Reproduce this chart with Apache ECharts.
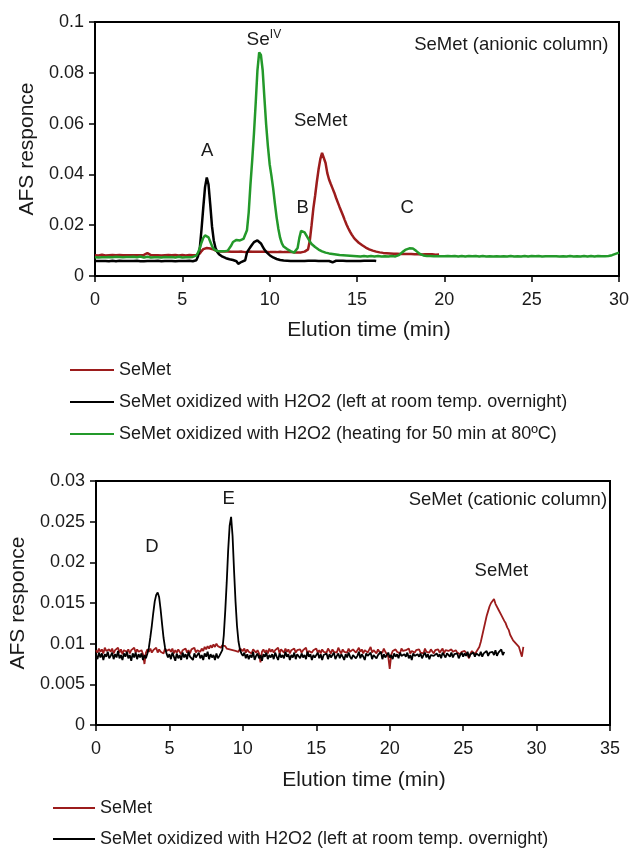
<!DOCTYPE html>
<html>
<head>
<meta charset="utf-8">
<script src="https://cdn.jsdelivr.net/npm/echarts@6/dist/echarts.min.js"></script>
<style>
  html, body { margin: 0; padding: 0; background: #fff; }
  #chart { width: 632px; height: 852px; }
</style>
</head>
<body>
<div id="chart"></div>
<script>
const step = 0.1;

const nameSeMet = "SeMet";
const nameRoom = "SeMet oxidized with H2O2 (left at room temp. overnight)";
const nameHeat = "SeMet oxidized with H2O2 (heating for 50 min at 80ºC)";

// ---- anionic column (top) ----
const anionSeMet = [
  .0082,.0083,.0081,.0082,.0084,.0082,.0081,.0083,.0082,.0082,
  .0083,.0081,.0082,.0082,.0083,.0081,.0082,.0084,.0082,.0081,
  .0082,.0083,.0082,.0081,.0082,.0083,.0082,.0081,.0083,.0086,
  .0090,.0083,.0082,.0081,.0082,.0083,.0082,.0082,.0081,.0083,
  .0082,.0081,.0083,.0082,.0082,.0081,.0083,.0082,.0081,.0082,
  .0083,.0082,.0081,.0082,.0083,.0082,.0082,.0081,.0083,.0082,
  .0088,.0098,.0106,.0109,.0110,.0109,.0108,.0106,.0104,.0101,
  .0097,.0096,.0096,.0095,.0096,.0095,.0096,.0095,.0095,.0096,
  .0095,.0096,.0095,.0095,.0096,.0095,.0094,.0095,.0096,.0095,
  .0095,.0096,.0095,.0094,.0095,.0096,.0095,.0094,.0095,.0095,
  .0094,.0095,.0094,.0095,.0094,.0094,.0095,.0094,.0094,.0095,
  .0094,.0093,.0094,.0094,.0093,.0094,.0093,.0094,.0093,.0094,
  .0096,.0099,.0105,.0140,.0200,.0265,.0315,.0370,.0420,.0460,
  .0485,.0478,.0445,.0405,.0380,.0362,.0345,.0328,.0308,.0290,
  .0272,.0255,.0238,.0220,.0203,.0188,.0175,.0163,.0153,.0144,
  .0137,.0131,.0126,.0121,.0116,.0112,.0108,.0105,.0102,.0100,
  .0098,.0096,.0094,.0093,.0092,.0091,.0090,.0090,.0089,.0089,
  .0088,.0088,.0087,.0088,.0087,.0087,.0086,.0087,.0086,.0087,
  .0086,.0087,.0086,.0086,.0087,.0086,.0086,.0085,.0086,.0086,
  .0085,.0086,.0085,.0086,.0085,.0084,.0086,.0085
];
const anionOxRoom = [
  .0059,.0060,.0059,.0058,.0059,.0060,.0059,.0059,.0058,.0059,
  .0060,.0059,.0058,.0059,.0060,.0059,.0059,.0058,.0059,.0060,
  .0059,.0058,.0059,.0059,.0060,.0059,.0058,.0051,.0058,.0059,
  .0059,.0060,.0059,.0058,.0059,.0059,.0060,.0059,.0058,.0059,
  .0059,.0058,.0059,.0060,.0059,.0052,.0058,.0059,.0059,.0060,
  .0059,.0058,.0059,.0059,.0060,.0059,.0058,.0059,.0062,.0078,
  .0110,.0185,.0270,.0350,.0388,.0360,.0280,.0195,.0140,.0110,
  .0095,.0086,.0080,.0076,.0073,.0070,.0068,.0066,.0064,.0063,
  .0062,.0058,.0048,.0047,.0056,.0060,.0062,.0092,.0104,.0114,
  .0124,.0133,.0138,.0140,.0137,.0128,.0116,.0104,.0095,.0088,
  .0082,.0077,.0073,.0070,.0067,.0065,.0063,.0062,.0061,.0061,
  .0060,.0060,.0059,.0060,.0059,.0053,.0059,.0060,.0059,.0060,
  .0059,.0060,.0060,.0059,.0060,.0059,.0060,.0060,.0059,.0060,
  .0059,.0060,.0059,.0060,.0059,.0060,.0054,.0059,.0060,.0059,
  .0060,.0059,.0060,.0059,.0059,.0060,.0059,.0060,.0059,.0060,
  .0059,.0060,.0059,.0059,.0060,.0059,.0060,.0059,.0060,.0059,
  .0060,.0059
];
const anionOxHeat = [
  .0074,.0076,.0073,.0075,.0074,.0077,.0074,.0073,.0075,.0076,
  .0074,.0073,.0076,.0074,.0075,.0073,.0074,.0076,.0075,.0073,
  .0075,.0074,.0076,.0073,.0074,.0075,.0077,.0074,.0073,.0075,
  .0076,.0074,.0073,.0075,.0074,.0076,.0074,.0075,.0073,.0074,
  .0075,.0073,.0074,.0076,.0075,.0074,.0073,.0075,.0076,.0074,
  .0073,.0075,.0074,.0076,.0074,.0073,.0075,.0076,.0080,.0092,
  .0110,.0132,.0150,.0160,.0162,.0152,.0135,.0118,.0106,.0100,
  .0098,.0097,.0097,.0096,.0097,.0098,.0100,.0106,.0120,.0134,
  .0140,.0142,.0141,.0140,.0142,.0146,.0152,.0180,.0250,.0360,
  .0455,.0560,.0680,.0810,.0880,.0870,.0810,.0700,.0595,.0510,
  .0440,.0395,.0345,.0285,.0230,.0185,.0150,.0128,.0116,.0110,
  .0106,.0102,.0098,.0094,.0092,.0091,.0110,.0150,.0178,.0180,
  .0172,.0160,.0148,.0136,.0126,.0119,.0114,.0109,.0104,.0100,
  .0097,.0094,.0092,.0090,.0089,.0088,.0087,.0086,.0085,.0084,
  .0083,.0083,.0082,.0081,.0081,.0080,.0080,.0079,.0079,.0079,
  .0078,.0079,.0077,.0078,.0079,.0078,.0077,.0078,.0079,.0078,
  .0077,.0078,.0079,.0078,.0077,.0078,.0078,.0079,.0077,.0078,
  .0079,.0078,.0077,.0078,.0082,.0088,.0094,.0099,.0104,.0107,
  .0109,.0110,.0108,.0104,.0098,.0092,.0087,.0083,.0081,.0080,
  .0079,.0078,.0079,.0077,.0078,.0079,.0078,.0077,.0078,.0079,
  .0078,.0077,.0079,.0078,.0078,.0077,.0079,.0078,.0077,.0078,
  .0079,.0078,.0077,.0078,.0079,.0078,.0078,.0077,.0079,.0078,
  .0077,.0078,.0079,.0078,.0077,.0079,.0078,.0078,.0077,.0078,
  .0078,.0079,.0077,.0078,.0078,.0079,.0077,.0078,.0079,.0078,
  .0077,.0078,.0078,.0079,.0077,.0078,.0079,.0078,.0077,.0078,
  .0079,.0077,.0078,.0078,.0079,.0078,.0077,.0079,.0078,.0077,
  .0078,.0079,.0078,.0077,.0078,.0079,.0077,.0078,.0078,.0079,
  .0077,.0078,.0079,.0078,.0077,.0078,.0078,.0079,.0077,.0078,
  .0079,.0078,.0077,.0078,.0079,.0078,.0077,.0078,.0079,.0078,
  .0078,.0079,.0078,.0077,.0079,.0080,.0082,.0084,.0087,.0090,
  .0092
];

// ---- cationic column (bottom) ----
const cationSeMet = [
  .0092,.0089,.0094,.0090,.0093,.0088,.0095,.0091,.0089,.0093,
  .0090,.0094,.0088,.0092,.0091,.0095,.0089,.0093,.0087,.0092,
  .0094,.0090,.0093,.0088,.0092,.0091,.0095,.0089,.0093,.0090,
  .0088,.0092,.0087,.0075,.0089,.0093,.0090,.0094,.0089,.0092,
  .0091,.0095,.0089,.0093,.0090,.0092,.0088,.0094,.0091,.0089,
  .0093,.0090,.0094,.0088,.0092,.0089,.0093,.0091,.0087,.0092,
  .0090,.0094,.0089,.0092,.0088,.0093,.0091,.0095,.0089,.0092,
  .0093,.0090,.0094,.0091,.0096,.0093,.0097,.0094,.0098,.0095,
  .0099,.0096,.0100,.0097,.0099,.0095,.0098,.0096,.0097,.0094,
  .0096,.0093,.0095,.0092,.0094,.0091,.0093,.0090,.0094,.0092,
  .0091,.0094,.0089,.0093,.0090,.0092,.0088,.0093,.0091,.0089,
  .0092,.0088,.0077,.0090,.0093,.0089,.0092,.0088,.0094,.0090,
  .0093,.0089,.0092,.0090,.0095,.0088,.0093,.0091,.0089,.0094,
  .0090,.0093,.0088,.0092,.0091,.0094,.0089,.0092,.0090,.0093,
  .0089,.0092,.0090,.0095,.0088,.0091,.0093,.0089,.0092,.0090,
  .0094,.0089,.0092,.0088,.0093,.0090,.0092,.0089,.0094,.0091,
  .0088,.0093,.0090,.0092,.0089,.0095,.0091,.0088,.0093,.0090,
  .0092,.0089,.0094,.0090,.0088,.0093,.0091,.0089,.0092,.0095,
  .0090,.0093,.0088,.0092,.0094,.0089,.0091,.0096,.0089,.0092,
  .0091,.0088,.0093,.0090,.0092,.0089,.0094,.0090,.0087,.0084,
  .0069,.0086,.0091,.0089,.0093,.0090,.0092,.0088,.0094,.0091,
  .0089,.0092,.0090,.0094,.0088,.0091,.0093,.0089,.0092,.0090,
  .0093,.0089,.0091,.0088,.0094,.0090,.0092,.0089,.0093,.0091,
  .0088,.0092,.0090,.0093,.0089,.0091,.0094,.0088,.0092,.0090,
  .0091,.0089,.0093,.0090,.0088,.0092,.0089,.0091,.0087,.0090,
  .0088,.0091,.0089,.0086,.0082,.0088,.0091,.0089,.0087,.0090,
  .0092,.0096,.0102,.0110,.0118,.0126,.0134,.0140,.0146,.0150,
  .0152,.0155,.0149,.0148,.0142,.0141,.0135,.0134,.0128,.0125,
  .0120,.0117,.0111,.0109,.0104,.0103,.0100,.0099,.0096,.0097,
  .0084,.0096
];
const cationOxRoom = [
  .0086,.0081,.0089,.0083,.0088,.0080,.0087,.0084,.0090,.0082,
  .0085,.0089,.0081,.0087,.0083,.0091,.0082,.0086,.0080,.0088,
  .0084,.0090,.0082,.0086,.0079,.0088,.0083,.0089,.0081,.0087,
  .0083,.0088,.0080,.0086,.0082,.0088,.0095,.0108,.0122,.0138,
  .0152,.0160,.0163,.0157,.0142,.0124,.0107,.0095,.0088,.0083,
  .0087,.0081,.0089,.0084,.0079,.0088,.0082,.0086,.0080,.0089,
  .0083,.0087,.0081,.0090,.0084,.0086,.0080,.0088,.0083,.0085,
  .0089,.0082,.0086,.0080,.0088,.0084,.0090,.0081,.0087,.0083,
  .0086,.0080,.0088,.0082,.0085,.0086,.0092,.0110,.0140,.0175,
  .0215,.0245,.0256,.0232,.0190,.0152,.0122,.0103,.0093,.0088,
  .0085,.0089,.0082,.0087,.0081,.0086,.0083,.0090,.0080,.0085,
  .0088,.0082,.0086,.0079,.0087,.0084,.0089,.0081,.0086,.0083,
  .0087,.0081,.0089,.0084,.0080,.0088,.0083,.0086,.0082,.0090,
  .0084,.0087,.0080,.0086,.0083,.0089,.0081,.0087,.0085,.0082,
  .0088,.0083,.0086,.0081,.0090,.0084,.0087,.0080,.0086,.0083,
  .0085,.0089,.0082,.0087,.0080,.0086,.0084,.0088,.0081,.0087,
  .0083,.0086,.0089,.0081,.0085,.0088,.0082,.0087,.0084,.0080,
  .0087,.0083,.0089,.0084,.0081,.0086,.0088,.0082,.0085,.0090,
  .0082,.0087,.0084,.0080,.0088,.0085,.0083,.0089,.0081,.0086,
  .0088,.0082,.0086,.0084,.0090,.0081,.0087,.0083,.0085,.0089,
  .0083,.0086,.0081,.0088,.0084,.0087,.0082,.0089,.0085,.0083,
  .0087,.0084,.0089,.0082,.0086,.0080,.0088,.0085,.0083,.0087,
  .0084,.0088,.0082,.0086,.0089,.0083,.0087,.0081,.0086,.0088,
  .0085,.0083,.0088,.0084,.0087,.0082,.0089,.0086,.0083,.0088,
  .0086,.0084,.0089,.0083,.0087,.0085,.0088,.0082,.0086,.0089,
  .0084,.0088,.0085,.0090,.0083,.0087,.0086,.0089,.0084,.0088,
  .0087,.0085,.0090,.0084,.0088,.0086,.0091,.0085,.0089,.0087,
  .0090,.0086,.0092,.0085,.0089,.0087,.0093,.0086,.0090
];

// peak labels: [time, response, text]
const anionNotes = [
  [9.67, 0.0929, "{a|Se}{b|IV}"],
  [12.92, 0.0611, "SeMet"],
  [6.42, 0.0493, "A"],
  [11.89, 0.0269, "B"],
  [17.88, 0.0269, "C"]
];
const anionTitle = [29.4, 0.0910, "SeMet (anionic column)"];
const cationNotes = [
  [3.81, 0.0219, "D"],
  [9.04, 0.0278, "E"],
  [27.6, 0.0189, "SeMet"]
];
const cationTitle = [34.8, 0.0277, "SeMet (cationic column)"];

const anionX = { max: 30, interval: 5 };
const anionY = { max: 0.1, interval: 0.02 };
const cationX = { max: 35, interval: 5 };
const cationY = { max: 0.03, interval: 0.005 };

const font = "Liberation Sans, Arial, sans-serif";
const ink = "#1a1a1a";
const red = "#9c1c1c";
const black = "#000000";
const green = "#23992a";

function pairs(values) {
  return values.map((v, i) => [+(i * step).toFixed(1), v]);
}

function xAxisOf(gi, cfg, padLeft, gap) {
  return {
    type: "value", gridIndex: gi, min: 0, max: cfg.max, interval: cfg.interval,
    name: "Elution time (min)", nameLocation: "middle", nameGap: gap,
    nameTextStyle: { fontSize: 21, color: ink, fontFamily: font, padding: [0, 0, 0, padLeft] },
    axisLine: { show: true, onZero: false, lineStyle: { color: "#000", width: 2 } },
    axisTick: { show: true, length: 6, lineStyle: { color: "#000", width: 1.5 } },
    axisLabel: { fontSize: 18, color: ink, fontFamily: font, margin: 15 },
    splitLine: { show: false }
  };
}

function yAxisOf(gi, cfg, gap) {
  return {
    type: "value", gridIndex: gi, min: 0, max: cfg.max, interval: cfg.interval,
    name: "AFS responce", nameLocation: "middle", nameGap: gap,
    nameTextStyle: { fontSize: 21, color: ink, fontFamily: font },
    axisLine: { show: true, onZero: false, lineStyle: { color: "#000", width: 2 } },
    axisTick: { show: true, length: 6, lineStyle: { color: "#000", width: 1.5 } },
    axisLabel: {
      fontSize: 18, color: ink, fontFamily: font, margin: 11,
      formatter: (v) => String(+v.toFixed(4))
    },
    splitLine: { show: false }
  };
}

function line(name, values, color, gi, width) {
  return {
    name: name, type: "line", xAxisIndex: gi, yAxisIndex: gi,
    data: pairs(values), showSymbol: false, symbol: "none",
    color: color, itemStyle: { color: color },
    lineStyle: { color: color, width: width }
  };
}

const legendText = { fontSize: 18, color: ink, fontFamily: font, lineHeight: 22 };

const option = {
  animation: false,
  backgroundColor: "#fff",
  grid: [
    { left: 95, top: 22, width: 524, height: 254, show: true, borderColor: "#000", borderWidth: 2, containLabel: false },
    { left: 96, top: 481, width: 514, height: 244, show: true, borderColor: "#000", borderWidth: 2, containLabel: false }
  ],
  xAxis: [xAxisOf(0, anionX, 24, 44), xAxisOf(1, cationX, 22, 45)],
  yAxis: [yAxisOf(0, anionY, 57), yAxisOf(1, cationY, 64)],
  legend: [
    {
      orient: "vertical", left: 70, top: 359, padding: 0, itemWidth: 44, itemHeight: 2, icon: "rect",
      itemGap: 10, selectedMode: false, textStyle: legendText,
      data: [nameSeMet, nameRoom, nameHeat]
    },
    {
      orient: "vertical", left: 53, top: 797, padding: 0, itemWidth: 42, itemHeight: 2, icon: "rect",
      itemGap: 9, selectedMode: false, textStyle: legendText,
      data: [nameSeMet, nameRoom]
    }
  ],
  series: [
    line(nameSeMet, anionSeMet, red, 0, 2.5),
    line(nameRoom, anionOxRoom, black, 0, 2.5),
    line(nameHeat, anionOxHeat, green, 0, 2.5),
    line(nameSeMet, cationSeMet, red, 1, 1.8),
    line(nameRoom, cationOxRoom, black, 1, 1.8)
  ]
};

const chart = echarts.init(document.getElementById("chart"), null, { renderer: "canvas" });
chart.setOption(option);

// place the peak labels through the axes' own scales
function note(gi, item, align) {
  const p = chart.convertToPixel({ gridIndex: gi }, [item[0], item[1]]);
  return {
    type: "text", x: p[0], y: p[1], silent: true,
    style: {
      text: item[2], fill: ink, fontSize: 18.5, fontFamily: font,
      align: align, verticalAlign: "middle",
      rich: {
        a: { fontSize: 19, fontFamily: font, fill: ink, lineHeight: 22 },
        b: { fontSize: 12, fontFamily: font, fill: ink, verticalAlign: "top", lineHeight: 22 }
      }
    }
  };
}

const marks = [];
anionNotes.forEach((n) => marks.push(note(0, n, "center")));
cationNotes.forEach((n) => marks.push(note(1, n, "center")));
marks.push(note(0, anionTitle, "right"));
marks.push(note(1, cationTitle, "right"));
chart.setOption({ graphic: marks });
</script>
</body>
</html>
